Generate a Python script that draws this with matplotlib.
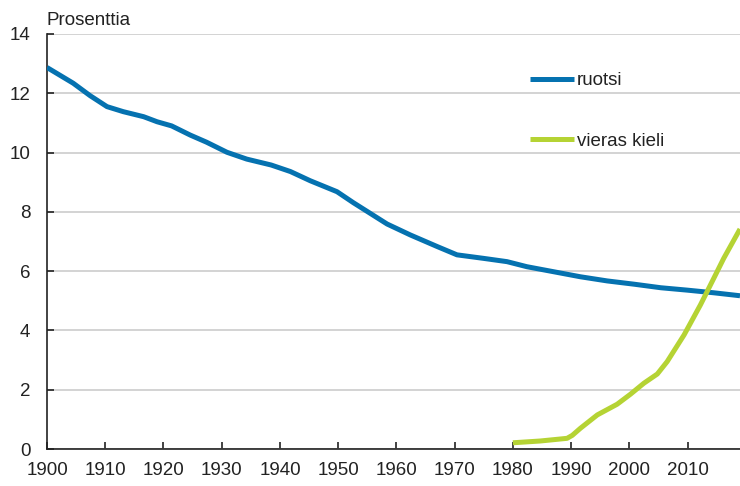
import matplotlib
matplotlib.use("Agg")
import matplotlib.pyplot as plt

plt.rcParams['font.family'] = ['Liberation Sans', 'DejaVu Sans']

# Swedish-speaking share (%)
ruotsi_years = [1900, 1904.5, 1907.4, 1910.3, 1913.1, 1916.6, 1918.9, 1921.4, 1924.6,
                1927.4, 1930.9, 1934.3, 1938.5, 1941.8, 1945.2, 1949.8, 1952.6,
                1955.5, 1958.4, 1962.4, 1967.0, 1970.4, 1975.0, 1979.0, 1982.4,
                1987.0, 1991.6, 1996.2, 2000.8, 2005.4, 2009.9, 2014.5, 2019]
ruotsi_vals = [12.87, 12.34, 11.92, 11.55, 11.38, 11.21, 11.04, 10.90, 10.59,
               10.35, 10.01, 9.78, 9.58, 9.36, 9.05, 8.68, 8.31,
               7.95, 7.59, 7.22, 6.83, 6.55, 6.43, 6.32, 6.15,
               5.98, 5.81, 5.67, 5.56, 5.44, 5.36, 5.27, 5.17]

# Foreign-language share (%)
vieras_years = [1980, 1984.7, 1989.3, 1990.2, 1991.6, 1994.5, 1997.9, 2000.2, 2002.5,
                2004.8, 2006.5, 2009.4, 2012.2, 2014.5, 2016.2, 2019]
vieras_vals = [0.21, 0.27, 0.36, 0.46, 0.70, 1.15, 1.51, 1.85, 2.22,
               2.53, 2.95, 3.85, 4.86, 5.76, 6.43, 7.42]

x_ticks = [1900, 1910, 1920, 1930, 1940, 1950, 1960, 1970, 1980, 1990, 2000, 2010]
y_ticks = [0, 2, 4, 6, 8, 10, 12, 14]

BLUE = '#0572B0'
GREEN = '#B5D334'
FS = 13.5

fig = plt.figure(figsize=(7.4, 4.86), dpi=100)
ax = fig.add_axes([47/740, 1 - 449/486, 693/740, 415/486])

ax.plot(ruotsi_years, ruotsi_vals, color=BLUE, lw=3.6, label='ruotsi',
        solid_capstyle='butt', zorder=3)
ax.plot(vieras_years, vieras_vals, color=GREEN, lw=3.6, label='vieras kieli',
        solid_capstyle='butt', zorder=3)

ax.set_xlim(1900, 2019)
ax.set_ylim(0, 14)
ax.set_xticks(x_ticks)
ax.set_yticks(y_ticks)
ax.yaxis.grid(True, color='#c8c8c8', lw=1.1)
ax.set_axisbelow(True)

for s in ['top', 'right']:
    ax.spines[s].set_visible(False)
for s in ['left', 'bottom']:
    ax.spines[s].set_color('#222222')
    ax.spines[s].set_linewidth(1.2)

ax.tick_params(axis='both', direction='in', length=5, width=1.2, color='#222222',
               labelsize=FS, labelcolor='#222222')
ax.tick_params(axis='y', pad=12)
ax.tick_params(axis='x', pad=9.5)

ax.text(0, 1.0217, 'Prosenttia', transform=ax.transAxes, ha='left',
        va='baseline', fontsize=FS, color='#222222')

leg = ax.legend(loc='center left', bbox_to_anchor=(0.697, 0.8145), frameon=False,
                fontsize=FS, handlelength=2.35, handletextpad=0.16,
                labelspacing=2.3, borderpad=0, borderaxespad=0)
for t in leg.get_texts():
    t.set_color('#222222')

fig.savefig('out.png', dpi=100)
